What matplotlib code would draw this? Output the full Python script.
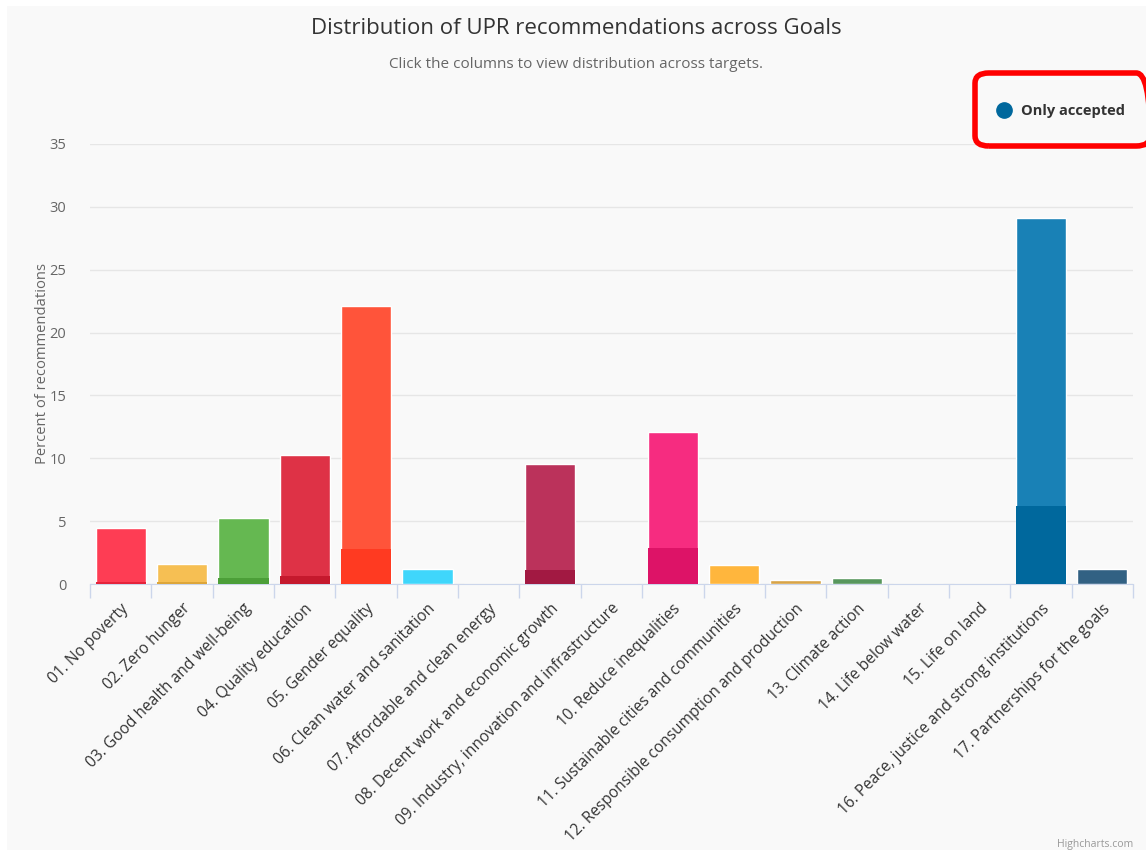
import numpy as np
import matplotlib
matplotlib.use("Agg")
import matplotlib.pyplot as plt
from matplotlib.patches import FancyBboxPatch, Rectangle
from matplotlib.lines import Line2D

plt.rcParams['font.family'] = ['Open Sans', 'DejaVu Sans']

# data
goals = ['01. No poverty', '02. Zero hunger', '03. Good health and well-being',
         '04. Quality education', '05. Gender equality', '06. Clean water and sanitation',
         '07. Affordable and clean energy', '08. Decent work and economic growth',
         '09. Industry, innovation and infrastructure', '10. Reduce inequalities',
         '11. Sustainable cities and communities', '12. Responsible consumption and production',
         '13. Climate action', '14. Life below water', '15. Life on land',
         '16. Peace, justice and strong institutions', '17. Partnerships for the goals']
all_recs = [4.45, 1.6, 5.25, 10.25, 22.1, 1.2, 0, 9.55, 0, 12.1, 1.5, 0.3, 0.45, 0, 0, 29.1, 1.2]
accepted = [0.15, 0.12, 0.45, 0.65, 2.8, 0, 0, 1.1, 0, 2.85, 0, 0, 0, 0, 0, 6.2, 0]
# SDG colours; the full bars are the brightened version
base_colors = ['#E5243B', '#DDA63A', '#4C9F38', '#C5192D', '#FF3A21', '#26BDE2', '#FCC30B',
               '#A21942', '#FD6925', '#DD1367', '#FD9D24', '#BF8B2E', '#3F7E44', '#0A97D9',
               '#56C02B', '#00689D', '#19486A']
light_colors = ['#FE3D54', '#F6BF53', '#65B851', '#DE3246', '#FF543A', '#3FD6FB', '#FFDC24',
                '#BB325B', '#FF823E', '#F62C80', '#FFB63D', '#D8A447', '#58975D', '#23B0F2',
                '#6FD944', '#1981B6', '#326183']

W, H = 1146, 850
fig = plt.figure(figsize=(W / 100, H / 100), dpi=100, facecolor='white')
fig.patches.append(Rectangle((7 / W, 0), 1, 1 - 6 / H, transform=fig.transFigure,
                             facecolor='#f9f9f9', edgecolor='none', zorder=-10))

ax = fig.add_axes([90 / W, 1 - 584 / H, (1133 - 90) / W, (584 - 144) / H])
ax.set_facecolor('none')
x = np.arange(len(goals))
ax.bar(x, all_recs, width=0.82, color=light_colors, edgecolor='white', linewidth=1, zorder=3)
ax.bar(x, accepted, width=0.82, color=base_colors, edgecolor='none', zorder=4)

ax.set_xlim(-0.5, len(goals) - 0.5)
ax.set_ylim(0, 35)
ax.set_yticks(np.arange(0, 36, 5))
ax.yaxis.grid(True, color='#e6e6e6', linewidth=1, zorder=0)
ax.tick_params(axis='y', length=0, pad=17, labelsize=10.5, labelcolor='#666666')
ax.set_xticks(x)
ax.set_xticklabels(goals, rotation=45, ha='right', va='top', rotation_mode='anchor',
                   fontsize=11.2, color='#333333')
ax.tick_params(axis='x', which='major', length=0, pad=12)
ax.set_xticks(np.arange(-0.5, len(goals), 1), minor=True)
ax.tick_params(axis='x', which='minor', length=10, color='#ccd6eb', width=1)
for s in ['top', 'right', 'left']:
    ax.spines[s].set_visible(False)
ax.spines['bottom'].set_color('#ccd6eb')
ax.set_ylabel('Percent of recommendations', fontsize=10.6, color='#666666', labelpad=0)

fig.text(576 / W, 1 - 28 / H, 'Distribution of UPR recommendations across Goals',
         ha='center', va='center', fontsize=16, color='#333333')
fig.text(576 / W, 1 - 64 / H, 'Click the columns to view distribution across targets.',
         ha='center', va='center', fontsize=11, color='#666666')

# legend
fig.add_artist(Line2D([1004 / W], [1 - 110 / H], marker='o', markersize=11,
                      color='#00689D', transform=fig.transFigure))
fig.text(1021 / W, 1 - 111 / H, 'Only accepted', ha='left', va='center',
         fontsize=10.5, fontweight='bold', color='#333333')
# red highlight box
fig.patches.append(FancyBboxPatch((975 / W, 1 - 146 / H), 175 / W, 73 / H,
                                  boxstyle='round,pad=0,rounding_size=0.012',
                                  transform=fig.transFigure, facecolor='none',
                                  edgecolor='#ff0000', linewidth=4, zorder=10))

fig.text(1133 / W, 1 - 845 / H, 'Highcharts.com', ha='right', va='center',
         fontsize=7.5, color='#999999')

fig.savefig('out.png', dpi=100, facecolor=fig.get_facecolor())
